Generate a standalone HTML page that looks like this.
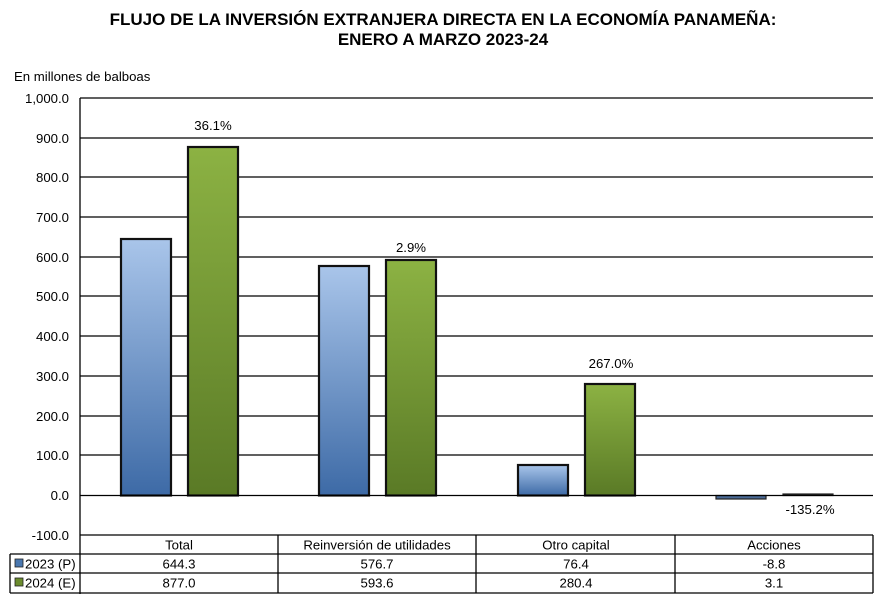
<!DOCTYPE html>
<html><head><meta charset="utf-8"><style>
html,body{margin:0;padding:0;background:#fff;}
svg{display:block;font-family:"Liberation Sans",Arial,sans-serif;}
</style></head><body>
<svg width="887" height="608" viewBox="0 0 887 608" xmlns="http://www.w3.org/2000/svg">
<defs>
<linearGradient id="b" x1="0" y1="0" x2="0" y2="1">
<stop offset="0" stop-color="#a9c5ea"/><stop offset="1" stop-color="#3d6aa6"/></linearGradient>
<linearGradient id="g" x1="0" y1="0" x2="0" y2="1">
<stop offset="0" stop-color="#8cb243"/><stop offset="1" stop-color="#5a7a26"/></linearGradient>
</defs>
<text x="443" y="25" text-anchor="middle" font-size="17" font-weight="bold">FLUJO DE LA INVERSIÓN EXTRANJERA DIRECTA EN LA ECONOMÍA PANAMEÑA:</text>
<text x="443" y="45" text-anchor="middle" font-size="17" font-weight="bold">ENERO A MARZO 2023-24</text>
<text x="14" y="81" font-size="13.2">En millones de balboas</text>
<g stroke="#000" stroke-width="1.3">
<line x1="80" y1="98" x2="873" y2="98"/><line x1="80" y1="138" x2="873" y2="138"/>
<line x1="80" y1="177" x2="873" y2="177"/><line x1="80" y1="217" x2="873" y2="217"/>
<line x1="80" y1="257" x2="873" y2="257"/><line x1="80" y1="296" x2="873" y2="296"/>
<line x1="80" y1="336" x2="873" y2="336"/><line x1="80" y1="376" x2="873" y2="376"/>
<line x1="80" y1="416" x2="873" y2="416"/><line x1="80" y1="455" x2="873" y2="455"/>
<line x1="80" y1="98" x2="80" y2="594"/>
</g>
<g font-size="13.2" text-anchor="end">
<text x="69" y="103">1,000.0</text><text x="69" y="143">900.0</text><text x="69" y="182">800.0</text>
<text x="69" y="222">700.0</text><text x="69" y="262">600.0</text><text x="69" y="301">500.0</text>
<text x="69" y="341">400.0</text><text x="69" y="381">300.0</text><text x="69" y="421">200.0</text>
<text x="69" y="460">100.0</text><text x="69" y="500">0.0</text><text x="69" y="540">-100.0</text>
</g>
<g stroke="#111" stroke-width="2.2">
<rect x="121" y="239" width="50" height="256.5" fill="url(#b)"/>
<rect x="188" y="147" width="50" height="348.5" fill="url(#g)"/>
<rect x="319" y="266" width="50" height="229.5" fill="url(#b)"/>
<rect x="386" y="260" width="50" height="235.5" fill="url(#g)"/>
<rect x="518" y="465" width="50" height="30.5" fill="url(#b)"/>
<rect x="585" y="384" width="50" height="111.5" fill="url(#g)"/>
</g>
<rect x="716" y="495.5" width="50" height="3.5" fill="#4a6a96" stroke="#222" stroke-width="1.2"/>
<rect x="783" y="494" width="50" height="1.5" fill="#222" stroke="#222" stroke-width="1.2"/>
<line x1="80" y1="495.5" x2="873" y2="495.5" stroke="#000" stroke-width="1.3"/>
<g font-size="13.2" text-anchor="middle">
<text x="213" y="130">36.1%</text><text x="411" y="252">2.9%</text>
<text x="611" y="368">267.0%</text><text x="810" y="514">-135.2%</text>
</g>
<g stroke="#000" stroke-width="1.3" fill="none">
<line x1="80" y1="535" x2="873" y2="535"/>
<line x1="10" y1="554" x2="873" y2="554"/>
<line x1="10" y1="573" x2="873" y2="573"/>
<line x1="10" y1="593" x2="873" y2="593"/>
<line x1="10" y1="554" x2="10" y2="593"/>
<line x1="278" y1="535" x2="278" y2="593"/>
<line x1="476" y1="535" x2="476" y2="593"/>
<line x1="675" y1="535" x2="675" y2="593"/>
<line x1="873" y1="535" x2="873" y2="593"/>
</g>
<rect x="15" y="559" width="8" height="8" fill="#4a78b0" stroke="#222" stroke-width="0.8"/>
<rect x="15" y="578" width="8" height="8" fill="#6b8c2e" stroke="#222" stroke-width="0.8"/>
<g font-size="13.2">
<text x="25" y="568.5">2023 (P)</text><text x="25" y="587.5">2024 (E)</text>
</g>
<g font-size="13.2" text-anchor="middle">
<text x="179" y="549.5">Total</text><text x="377" y="549.5">Reinversión de utilidades</text>
<text x="576" y="549.5">Otro capital</text><text x="774" y="549.5">Acciones</text>
<text x="179" y="568.5">644.3</text><text x="377" y="568.5">576.7</text>
<text x="576" y="568.5">76.4</text><text x="774" y="568.5">-8.8</text>
<text x="179" y="587.5">877.0</text><text x="377" y="587.5">593.6</text>
<text x="576" y="587.5">280.4</text><text x="774" y="587.5">3.1</text>
</g>
</svg>
</body></html>
